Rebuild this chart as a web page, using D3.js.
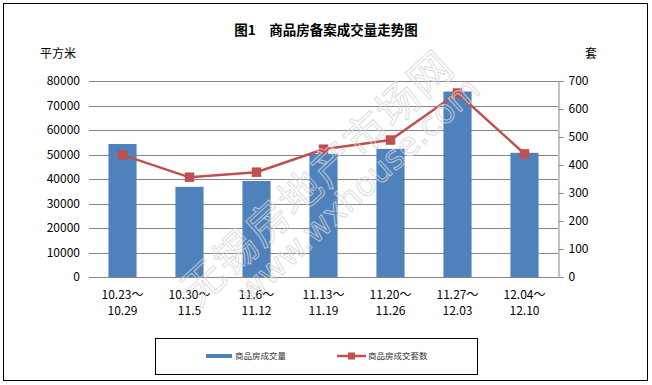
<!DOCTYPE html>
<html>
<head>
<meta charset="utf-8">
<script src="https://cdn.jsdelivr.net/npm/d3@7"></script>
<style>
  body { margin: 0; background: #fff; }
  text { font-family: "SimSun", "Noto Sans CJK SC", sans-serif; }
</style>
</head>
<body>
<div id="here"></div>
<script>
// weekly data
const weeks = ["10.23～|10.29", "10.30～|11.5", "11.6～|11.12", "11.13～|11.19",
               "11.20～|11.26", "11.27～|12.03", "12.04～|12.10"];
const area = [54300, 36800, 39200, 50300, 52300, 75700, 50700];
const units = [436, 356, 374, 456, 489, 657, 440];
const leftTicks = [0, 10000, 20000, 30000, 40000, 50000, 60000, 70000, 80000];
const rightTicks = [0, 100, 200, 300, 400, 500, 600, 700];

const width = 652, height = 385;
const margin = { top: 81, right: 94, bottom: 108, left: 89 };

const svg = d3.select("#here").append("svg")
    .attr("width", width)
    .attr("height", height);

// outer frame
svg.append("rect")
    .attr("x", 3.5).attr("y", 3.5)
    .attr("width", 644).attr("height", 377)
    .attr("fill", "#fff").attr("stroke", "#000").attr("stroke-width", 1);

const xScale = d3.scaleBand()
    .domain(weeks)
    .range([margin.left, width - margin.right])
    .paddingInner(0.58).paddingOuter(0.29);

const yLeft = d3.scaleLinear()
    .domain([0, 80000])
    .range([height - margin.bottom, margin.top]);

const yRight = d3.scaleLinear()
    .domain([0, 700])
    .range([height - margin.bottom, margin.top]);

// gridlines
svg.append("g")
    .selectAll("line")
    .data(leftTicks)
    .enter()
    .append("line")
    .attr("x1", margin.left)
    .attr("x2", width - margin.right)
    .attr("y1", d => Math.round(yLeft(d)) + 0.5)
    .attr("y2", d => Math.round(yLeft(d)) + 0.5)
    .attr("stroke", "#868686");

// left axis labels
svg.append("g")
    .selectAll("text")
    .data(leftTicks)
    .enter()
    .append("text")
    .attr("x", 80)
    .attr("y", d => yLeft(d) + 4)
    .attr("text-anchor", "end")
    .attr("font-size", 12)
    .attr("fill", "#000")
    .text(d => d);

// right axis
const rightAxis = svg.append("g")
    .attr("transform", `translate(${width - margin.right + 0.5}, 0)`)
    .call(d3.axisRight(yRight).tickValues(rightTicks).tickSize(5).tickPadding(5));
rightAxis.select(".domain").attr("stroke", "#868686");
rightAxis.selectAll(".tick line").attr("stroke", "#868686");
rightAxis.selectAll(".tick text")
    .attr("font-size", 12)
    .attr("fill", "#000")
    .style("font-family", "SimSun, 'Noto Sans CJK SC', sans-serif");

// bars
svg.append("g")
    .selectAll("rect")
    .data(area)
    .enter()
    .append("rect")
    .attr("x", (d, i) => xScale(weeks[i]))
    .attr("y", d => yLeft(d))
    .attr("width", xScale.bandwidth())
    .attr("height", d => yLeft(0) - yLeft(d))
    .attr("fill", "#4F81BD");

// bottom axis line
svg.append("line")
    .attr("x1", margin.left).attr("x2", width - margin.right)
    .attr("y1", Math.round(yLeft(0)) + 0.5).attr("y2", Math.round(yLeft(0)) + 0.5)
    .attr("stroke", "#868686");

// x labels
const xl = svg.append("g")
    .selectAll("text")
    .data(weeks)
    .enter()
    .append("text")
    .attr("text-anchor", "middle")
    .attr("font-size", 12)
    .attr("fill", "#000");
xl.append("tspan")
    .attr("x", d => xScale(d) + xScale.bandwidth() / 2)
    .attr("y", 299)
    .text(d => d.split("|")[0]);
xl.append("tspan")
    .attr("x", d => xScale(d) + xScale.bandwidth() / 2)
    .attr("y", 315)
    .text(d => d.split("|")[1]);

// line
const line = d3.line()
    .x((d, i) => xScale(weeks[i]) + xScale.bandwidth() / 2)
    .y(d => yRight(d));

svg.append("path")
    .datum(units)
    .attr("d", line)
    .attr("fill", "none")
    .attr("stroke", "#C0504D")
    .attr("stroke-width", 2.5);

svg.append("g")
    .selectAll("rect")
    .data(units)
    .enter()
    .append("rect")
    .attr("x", (d, i) => xScale(weeks[i]) + xScale.bandwidth() / 2 - 4.5)
    .attr("y", d => yRight(d) - 4.5)
    .attr("width", 9)
    .attr("height", 9)
    .attr("fill", "#C0504D")
    .attr("stroke", "#B9504D")
    .attr("stroke-width", 0.5);

// watermark
const wm = svg.append("g")
    .attr("fill", "none")
    .attr("stroke", "#d6d6d6")
    .attr("stroke-width", 1)
    .attr("opacity", 0.8);
wm.append("text")
    .attr("transform", "translate(315,175) rotate(-42.5)")
    .attr("text-anchor", "middle")
    .attr("dominant-baseline", "central")
    .attr("font-size", 42)
    .attr("letter-spacing", 2)
    .text("无锡房地产市场网");
wm.append("text")
    .attr("transform", "translate(358,190) rotate(-42.5)")
    .attr("text-anchor", "middle")
    .attr("dominant-baseline", "central")
    .attr("font-size", 33)
    .style("font-family", "'DejaVu Sans', sans-serif")
    .text("www.wxhouse.com");

// title and unit labels
svg.append("text")
    .attr("x", 326)
    .attr("y", 35)
    .attr("text-anchor", "middle")
    .attr("font-size", 13.5)
    .attr("font-weight", "bold")
    .text("图1　商品房备案成交量走势图");

svg.append("text")
    .attr("x", 40)
    .attr("y", 58)
    .attr("font-size", 12)
    .text("平方米");

svg.append("text")
    .attr("x", 585)
    .attr("y", 58)
    .attr("font-size", 12)
    .text("套");

// legend
const legend = svg.append("g");
legend.append("rect")
    .attr("x", 155.5).attr("y", 338.5)
    .attr("width", 322).attr("height", 36)
    .attr("fill", "#fff").attr("stroke", "#000");
legend.append("rect")
    .attr("x", 206).attr("y", 354)
    .attr("width", 26).attr("height", 4)
    .attr("fill", "#4F81BD");
legend.append("text")
    .attr("x", 235).attr("y", 359)
    .attr("font-size", 8.5)
    .attr("fill", "#333")
    .text("商品房成交量");
legend.append("line")
    .attr("x1", 337).attr("x2", 366)
    .attr("y1", 356).attr("y2", 356)
    .attr("stroke", "#C0504D").attr("stroke-width", 2.5);
legend.append("rect")
    .attr("x", 348).attr("y", 352.5)
    .attr("width", 7).attr("height", 7)
    .attr("fill", "#C0504D");
legend.append("text")
    .attr("x", 368).attr("y", 359)
    .attr("font-size", 8.5)
    .attr("fill", "#333")
    .text("商品房成交套数");
</script>
</body>
</html>
